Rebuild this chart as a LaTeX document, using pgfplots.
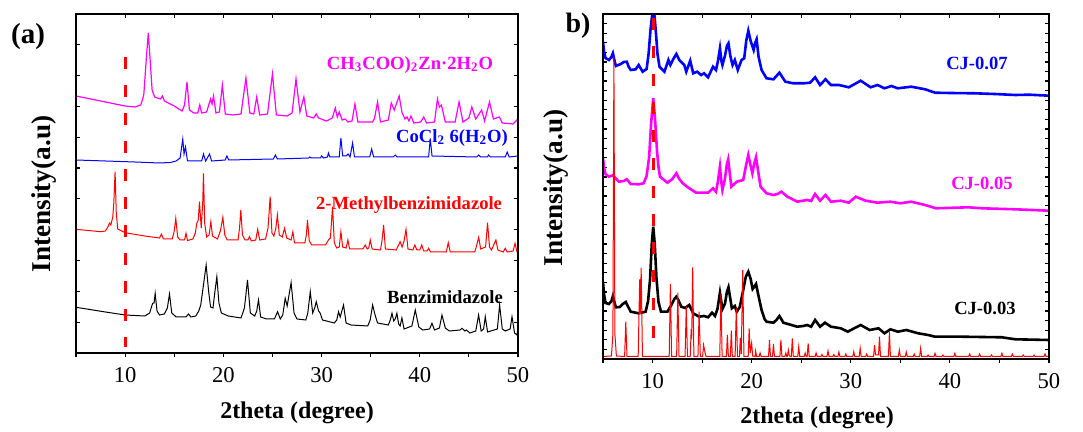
\documentclass[border=0pt]{standalone}
\usepackage{fontspec}
\setmainfont{Liberation Serif}
\usepackage{pgfplots}
\pgfplotsset{compat=1.18}
\definecolor{mag}{RGB}{255,0,255}
\definecolor{blu}{RGB}{0,0,255}
\definecolor{rd}{RGB}{255,0,0}
\pgfplotsset{
  common/.style={scale only axis, anchor=south west, xmin=5, xmax=50,
    axis line style={line width=0.7pt}, tick style={line width=0.6pt, black},
    major tick length=2pt, minor tick length=2pt,
    xtick={10,20,30,40,50}, minor xtick={5,15,25,35,45}},
  bottomticks/.style={tick align=outside, xtick pos=left, ytick=\empty,
    xticklabel style={font=\fontsize{11.3}{13}\selectfont, yshift=-1.5pt},
    /pgf/number format/assume math mode=true},
}
\begin{document}
\begin{tikzpicture}[x=0.5pt,y=-0.5pt]
\path[use as bounding box] (0,0) rectangle (1083,432);
% ---------------- panel (a) ----------------
\begin{axis}[common, at={(38pt,-176.5pt)}, width=221pt, height=169.5pt, ymin=0, ymax=339,
  tick align=inside, xtick pos=right, xticklabels={}, ytick distance=30.82,
  yticklabels={}, ytick pos=both]
% Benzimidazole
\addplot[black, line width=0.5pt] coordinates {
(5,45.7)(8,41)(10,38)(12.0,37)(12.5,40)(12.8,49.7)(12.95,50)(13.06,59.7)(13.25,42)(13.5,38)
(14.0,39)(14.3,45)(14.52,59)(14.75,40)(15.2,36)(16.2,36)(16.45,39)(16.7,36)(17.2,37)(17.5,42)
(17.7,48)(17.95,66)(18.25,88)(18.5,62)(18.7,46)(18.95,45)(19.1,58)(19.34,76.3)(19.55,50)(19.8,40)
(20.5,37)(21.8,35)(22.15,45)(22.46,73)(22.75,40)(23.2,37)(23.4,42)(23.58,53)(23.8,36)(24.4,34)
(25.2,34)(25.52,41.3)(25.8,34)(26.05,38)(26.3,54.7)(26.5,47)(26.9,70.3)(27.2,40)(27.5,34)
(28.4,33)(28.6,40)(28.85,61.3)(29.1,40)(29.3,45)(29.46,51.3)(29.7,42)(29.85,40)(30.1,33)
(31.3,30)(31.55,33)(31.73,41.3)(31.9,36)(32.24,48)(32.5,30)(33,28)(34.7,27)(34.95,33)(35.2,48)
(35.45,38)(35.7,30)(36.8,28)(37.0,33)(37.17,39.7)(37.35,32)(37.5,34)(37.67,39.7)(37.85,29)
(38.0,27)(38.18,35)(38.4,24)(39.2,27)(39.54,43)(39.9,26)(40.3,23)(41.0,24)(41.24,29.7)(41.5,23)
(42.0,25)(42.26,38)(42.6,25)(43.0,22)(44.1,23)(44.3,24.7)(44.6,22)(44.75,23)(45.1,20)(45.7,22)
(45.99,38)(46.25,22)(46.5,24)(46.67,36.3)(46.9,21)(47.9,24)(48.13,48)(48.4,24)(48.7,22)
(49.2,24)(49.39,36.3)(49.65,20)(49.9,18)(50,26)};
% 2-Methylbenzimidazole
\addplot[rd, line width=0.5pt] coordinates {
(5,123.7)(7.5,121.3)(8.0,122)(8.3,127)(8.4,130)(8.55,128)(8.74,136)(8.85,150)(8.98,181.3)
(9.1,140)(9.25,124)(10,120.3)(12,117)(13.5,115)(13.7,119)(13.9,114)(14.8,114)(15.0,122)
(15.16,134.7)(15.35,116)(15.6,113)(16.05,113)(16.2,119.7)(16.35,112.5)(16.9,114)(17.15,120)
(17.3,129.7)(17.45,133)(17.57,151.3)(17.75,125)(17.9,150)(17.98,179.7)(18.1,130)(18.3,116)
(18.55,118)(18.73,131.3)(18.9,117)(19.4,114)(19.7,122)(19.95,135.7)(20.15,118)(20.4,113)
(21.5,113)(21.65,125)(21.78,143)(21.95,118)(22.2,113)(22.5,113)(22.67,116.3)(22.85,112)
(23.3,113)(23.5,123.7)(23.7,113)(24.3,114)(24.55,125)(24.77,156.3)(24.95,120)(25.15,117)
(25.35,125)(25.5,138)(25.7,118)(26.0,116)(26.23,124.7)(26.45,115)(26.9,113)(27.08,121.3)
(27.25,110)(28.3,110)(28.45,118)(28.57,133)(28.75,112)(29.0,108)(30.4,108)(30.7,113)(30.9,115)
(31.12,146.3)(31.3,110)(31.55,105)(31.8,106)(31.97,121.3)(32.15,106)(32.5,105)(32.68,113)
(32.85,104)(34.2,104)(34.45,108)(34.65,104)(34.8,105)(34.96,113)(35.15,104)(36.0,103)
(36.15,112)(36.32,128)(36.5,104)(37.6,103)(37.85,108)(38.0,111.3)(38.2,106)(38.4,112)
(38.6,123.7)(38.8,104)(39.3,103)(39.5,108)(39.7,103)(40.0,103)(40.2,108)(40.4,102)(40.75,102)
(40.9,104.7)(41.1,101)(42.7,101)(42.9,110.3)(43.1,101)(45.6,101)(45.8,108)(46.0,115.7)
(46.2,104)(46.7,106)(46.9,130.3)(47.1,106)(47.3,103)(47.75,113)(47.95,103)(48.5,101)
(48.7,104.7)(48.9,101)(49.5,102)(49.7,109.7)(49.9,101)(50,101.3)};
% CoCl2 6H2O
\addplot[blu, line width=0.5pt] coordinates {
(5.0,193)(8.0,192)(11.0,191)(13.5,190)(14.6,190.5)(15.2,192)(15.6,195)(15.87,214)(16.0,199)
(16.15,206)(16.35,192)(17.0,192)(17.8,192)(17.98,199)(18.2,192)(18.6,199)(18.8,192)(20.2,193)
(20.36,197)(20.55,193)(25.1,194)(25.3,198)(25.5,194)(28.7,195)(28.8,196)(28.95,195)(29.9,195)
(30.0,197)(30.2,195)(30.6,196)(30.7,200)(30.85,196)(31.8,196)(31.97,215)(32.15,197)(32.5,197)
(32.7,199)(32.9,196)(33.16,210)(33.35,196)(34.9,196)(35.1,204)(35.3,196)(37.3,196)(37.5,198)
(37.7,196)(40.9,196)(41.07,214)(41.25,197)(45.8,196)(46.0,198)(46.2,196)(46.9,196)(47.0,198)
(47.2,196)(48.7,196)(48.9,201)(49.1,196)(50.0,197)};
% Zn acetate
\addplot[mag, line width=0.6pt] coordinates {
(5,257)(6,255)(7,253)(8,251)(9,249)(10,247)(11,246)(11.6,248)(11.9,258)(12.15,293)(12.36,320)
(12.55,293)(12.75,263)(13,256)(13.6,254)(13.8,257)(14,252)(15,247)(15.8,242)(16.05,248)
(16.3,271)(16.55,243)(17,240)(17.4,240)(17.6,248)(17.8,240)(18.3,241)(18.7,254)(18.85,249)
(19,257)(19.25,240)(19.6,241)(19.9,268)(20.2,239)(21,238)(21.8,239)(22.3,275)(22.7,240)
(23.1,239)(23.4,256)(23.7,238)(24.5,239)(25,279)(25.4,238)(26.5,237)(27,240)(27.4,274)
(27.8,241)(28.2,256)(28.5,237)(29.2,235)(29.45,239)(29.7,235)(30.5,232)(31.1,235)(31.4,245)
(31.6,236)(31.8,241)(32.1,233)(32.4,234)(32.7,231)(33.1,232)(33.4,249)(33.7,231)(35.2,231)
(35.4,235)(35.7,251)(36.0,231)(36.8,233)(37.1,250)(37.4,243)(37.9,257)(38.2,240)(38.5,234)
(38.7,236)(38.9,232)(39.1,237)(39.4,230)(40.1,231)(40.4,236)(40.7,230)(41.5,231)(41.8,254)
(42.0,246)(42.2,248)(42.6,231)(43.6,231)(44.0,251)(44.4,231)(45.0,235)(45.3,246)(45.7,234)
(46.3,243)(46.6,232)(47.1,251)(47.5,234)(48.1,236)(48.4,230)(49.5,229)(50,234)};
% reference line
\addplot[rd, line width=1.5pt, dash pattern=on 6pt off 8pt] coordinates {(10,296)(10,6)};
\end{axis}
\begin{axis}[common, bottomticks, at={(38pt,-176.5pt)}, width=221pt, height=169.5pt, ymin=0, ymax=339]
\end{axis}
% ---------------- panel (b) ----------------
\begin{axis}[common, at={(301.5pt,-179.5pt)}, width=223pt, height=172.5pt, ymin=0, ymax=345,
  tick align=inside, xtick pos=right, xticklabels={}, ytick distance=9.583,
  yticklabels={}, ytick pos=both]
% CJ-0.03
\addplot[black, line width=1.3pt] coordinates {
(5.0,77.3)(5.1,65)(5.25,56)(5.6,55)(5.85,58)(6.0,63)(6.15,57)(6.3,51.7)(6.7,52)(7.0,55)(7.3,57)
(7.55,52)(7.8,47.3)(8.6,45.7)(9.3,47.3)(9.55,58)(9.75,80)(9.92,115)(10.07,132.3)(10.22,115)
(10.4,80)(10.6,57)(10.85,47.3)(11.5,47.3)(11.9,54)(12.2,60)(12.4,62.3)(12.6,59)(12.9,52.3)
(13.3,51)(13.7,54)(14.1,45.7)(14.7,42.3)(15.2,43)(15.6,41.7)(16.0,46.3)(16.3,43)(16.55,50)
(16.8,66.3)(17.05,50)(17.3,55)(17.5,67)(17.66,71.7)(17.85,60)(18.0,50.7)(18.3,53)(18.5,47.3)
(18.8,52)(19.15,69)(19.4,82)(19.66,87.3)(19.9,80)(20.1,70)(20.25,72)(20.44,75)(20.65,65)
(21.0,49)(21.3,40)(21.5,37.3)(22.2,36.3)(22.5,39)(22.8,43)(23.2,36.3)(24.6,32.3)(25.2,33)
(25.6,34)(26.0,32.3)(26.4,39)(26.9,32.3)(27.4,36.3)(28.0,32.3)(29.0,30.7)(29.7,27.3)(30.4,31)
(31.0,34)(31.9,29)(32.8,30.7)(33.4,25.7)(34.0,29.7)(34.75,27.3)(35.6,29)(36.8,25.7)(37.8,24)
(38.5,22.3)(41.2,22.3)(45.25,21.7)(46.6,19.7)(50.0,19)};
% CJ-0.05
\addplot[mag, line width=1.3pt] coordinates {
(5.0,200.7)(5.1,192)(5.25,185)(5.6,182.3)(6.0,183.7)(6.6,177.3)(7.1,178)(7.4,179.7)(7.8,175)
(8.6,174.7)(9.1,175.7)(9.4,183)(9.66,202.3)(9.85,235)(10.07,260.7)(10.25,240)(10.45,208)
(10.6,192)(10.75,182.3)(11.5,176.3)(12.0,180)(12.4,185.7)(12.7,180)(13.05,175.7)(13.7,170.7)
(14.4,166.3)(15.6,166.3)(16.1,170.7)(16.4,167.3)(16.6,178)(16.8,192.3)(16.95,176)(17.05,169)
(17.3,180)(17.5,195)(17.63,199.7)(17.8,185)(17.95,172.3)(18.5,177.3)(19.15,179)(19.4,192)
(19.66,204)(19.9,193)(20.07,185.7)(20.25,195)(20.44,201.7)(20.65,188)(20.9,172.3)(21.5,165.7)
(22.2,164)(22.6,165)(23.0,167.3)(23.6,162.3)(24.6,157.3)(25.6,159)(26.0,158)(26.4,165)
(26.9,158.3)(27.45,164)(28.0,157.3)(29.0,158.3)(29.8,156.3)(30.5,162.3)(31.5,158.3)
(32.7,156.3)(34.0,157.3)(35.0,155.7)(36.1,157.3)(37.5,154)(38.6,150.7)(41.9,151.7)
(43.2,150.7)(46.6,149.7)(50.0,148.3)};
% CJ-0.07
\addplot[blu, line width=1.3pt] coordinates {
(5.0,317.3)(5.1,308)(5.25,301)(5.6,299)(5.85,302)(6.0,305.7)(6.15,299)(6.3,293)(6.8,295)
(7.1,297)(7.4,297.3)(7.6,292)(7.8,289)(8.3,289.7)(8.6,294)(9.0,287.3)(9.4,290)(9.6,305)
(9.8,330)(9.95,343)(10.07,345)(10.2,343)(10.35,325)(10.5,305)(10.7,292.3)(11.2,287.3)
(11.6,299)(11.8,294)(12.1,300)(12.4,305)(12.7,299)(13.2,294)(13.4,287.3)(13.8,298.3)
(14.1,285.7)(14.5,287.3)(14.9,284)(15.2,285.7)(15.6,281.7)(16.1,292.3)(16.4,289)(16.6,298)
(16.8,310.7)(16.95,298)(17.05,294)(17.3,303)(17.5,313)(17.66,315.7)(17.85,303)(18.07,294)
(18.3,299)(18.6,289)(18.98,299)(19.25,300.7)(19.45,318)(19.66,328.3)(19.9,318)(20.2,309)
(20.35,316)(20.5,319.7)(20.7,302)(21.0,289)(21.5,280.7)(22.2,279.7)(22.8,286.3)(23.4,277.3)
(24.2,275.7)(25.25,275.7)(25.9,276.3)(26.4,281.7)(26.9,274)(27.45,279.7)(28.0,274)(28.8,274)
(29.8,271.7)(31.0,278.3)(32.0,271.7)(32.7,274)(33.4,270.7)(34.1,273)(34.75,270.7)(36.1,272.3)
(37.5,269.7)(38.5,266.3)(40.0,266)(42.5,265.7)(44.5,265)(46.6,264)(48.0,264.3)(50.0,263.3)};
% simulated pattern
\addplot[rd, line width=0.5pt] coordinates {
(5,2.5)(5.85,3)(6.0,25)(6.1,302)(6.2,25)(6.35,3)
(7.18,2.5)(7.3,37.3)(7.42,2.5)
(8.55,2.5)(8.7,79.7)(8.77,45)(8.85,91.3)(8.98,2.5)
(11.68,2.5)(11.8,75)(11.92,2.5)
(12.43,2.5)(12.55,66.3)(12.67,2.5)
(13.28,2.5)(13.4,52.3)(13.52,2.5)
(13.8,2.5)(13.9,30)(13.95,20)(14.05,91.7)(14.17,2.5)
(14.58,2.5)(14.7,47.3)(14.82,2.5)
(15.05,2.5)(15.15,14)(15.3,6)(15.4,2.5)
(16.78,2.5)(16.9,65)(17.02,2.5)
(17.45,2.5)(17.55,24)(17.65,2.5)(17.85,2.5)(17.95,28.3)(18.05,2.5)
(18.33,2.5)(18.45,50.7)(18.57,2.5)
(18.77,2.5)(18.85,21)(18.95,5)(19.1,89)(19.22,2.5)
(19.65,2.5)(19.75,30.7)(19.85,6)(20.0,16)(20.1,3)(20.35,2.5)(20.4,8)(20.5,2.5)(20.75,2.5)(20.85,6)(20.95,2.5)
(21.7,2.5)(21.8,19)(21.9,2.5)(22.1,2.5)(22.2,15)(22.3,2.5)
(22.85,2.5)(22.95,19)(23.05,2.5)(23.35,2.5)(23.45,6)(23.55,2.5)(23.6,2.5)(23.7,9)(23.8,3)(24.0,2.5)(24.1,20.7)(24.2,2.5)
(24.65,2.5)(24.75,12.3)(24.85,2.5)(25.3,2.5)(25.4,6)(25.5,2.5)(25.6,2.5)(25.7,15.7)(25.8,2.5)
(26.4,2.5)(26.5,6)(26.6,2.5)(27.0,2.5)(27.1,4.5)(27.2,2.5)(27.6,2.5)(27.7,8.3)(27.8,2.5)
(28.2,2.5)(28.3,4.5)(28.4,2.5)(28.7,2.5)(28.8,7)(28.9,2.5)(29.4,2.5)(29.5,5)(29.6,2.5)(30.2,2.5)(30.3,7.3)(30.4,2.5)
(30.85,2.5)(30.95,10.7)(31.05,2.5)(31.5,2.5)(31.6,5)(31.7,2.5)
(32.3,2.5)(32.4,14)(32.5,4)(32.8,4)(32.9,22.3)(33.0,2.5)
(33.8,2.5)(33.9,27.3)(34.0,2.5)(34.8,2.5)(34.9,9)(35.0,2.5)(35.5,2.5)(35.6,7)(35.7,2.5)
(36.3,2.5)(36.4,5)(36.5,2.5)(36.95,2.5)(37.05,10.7)(37.15,2.5)(37.7,2.5)(37.8,4)(37.9,2.5)(38.4,2.5)(38.5,5.7)(38.6,2.5)
(39.2,2.5)(39.3,4)(39.4,2.5)(40.4,2.5)(40.5,5.7)(40.6,2.5)(41.9,2.5)(42.0,5)(42.1,2.5)(42.9,2.5)(43.0,5)(43.1,2.5)
(44.1,2.5)(44.2,4)(44.3,2.5)(45.15,2.5)(45.25,5.7)(45.35,2.5)(46.2,2.5)(46.3,5)(46.4,2.5)(47.3,2.5)(47.4,4)(47.5,2.5)(48.4,2.5)(48.5,4)(48.6,2.5)
(49.5,2.5)(49.6,5)(49.7,2.5)(50,2.5)};
% reference line
\addplot[rd, line width=1.5pt, dash pattern=on 6pt off 8pt] coordinates {(10.1,21)(10.1,345)};
\end{axis}
\begin{axis}[common, bottomticks, at={(301.5pt,-179.5pt)}, width=223pt, height=172.5pt, ymin=0, ymax=345]
\end{axis}
% ---------------- text ----------------
\begin{scope}[every node/.style={font=\bfseries\fontsize{9.3}{11}\selectfont, inner sep=0pt}]
\node[text=mag] at (410,65) {CH\textsubscript{3}COO)\textsubscript{2}Zn·2H\textsubscript{2}O};
\node[text=blu] at (452,138) {CoCl\textsubscript{2} 6(H\textsubscript{2}O)};
\node[text=rd] at (409,205) {2-Methylbenzimidazole};
\node[text=black] at (445,297) {Benzimidazole};
\node[text=blu] at (977,63) {CJ-0.07};
\node[text=mag] at (982,183) {CJ-0.05};
\node[text=black] at (985,308) {CJ-0.03};
\end{scope}
\begin{scope}[every node/.style={font=\bfseries\fontsize{12}{14}\selectfont, inner sep=0pt}]
\node at (297,413) {2theta (degree)};
\node at (817,418) {2theta (degree)};
\end{scope}
\begin{scope}[every node/.style={font=\bfseries\fontsize{13.6}{15}\selectfont, inner sep=0pt}]
\node[rotate=90] at (44,194) {Intensity(a.u)};
\node[rotate=90] at (556,188) {Intensity(a.u)};
\end{scope}
\node[font=\bfseries\fontsize{14.5}{16}\selectfont, inner sep=0pt] at (28,37) {(a)};
\node[font=\bfseries\fontsize{14}{16}\selectfont, inner sep=0pt] at (578,26) {b)};
\end{tikzpicture}
\end{document}
